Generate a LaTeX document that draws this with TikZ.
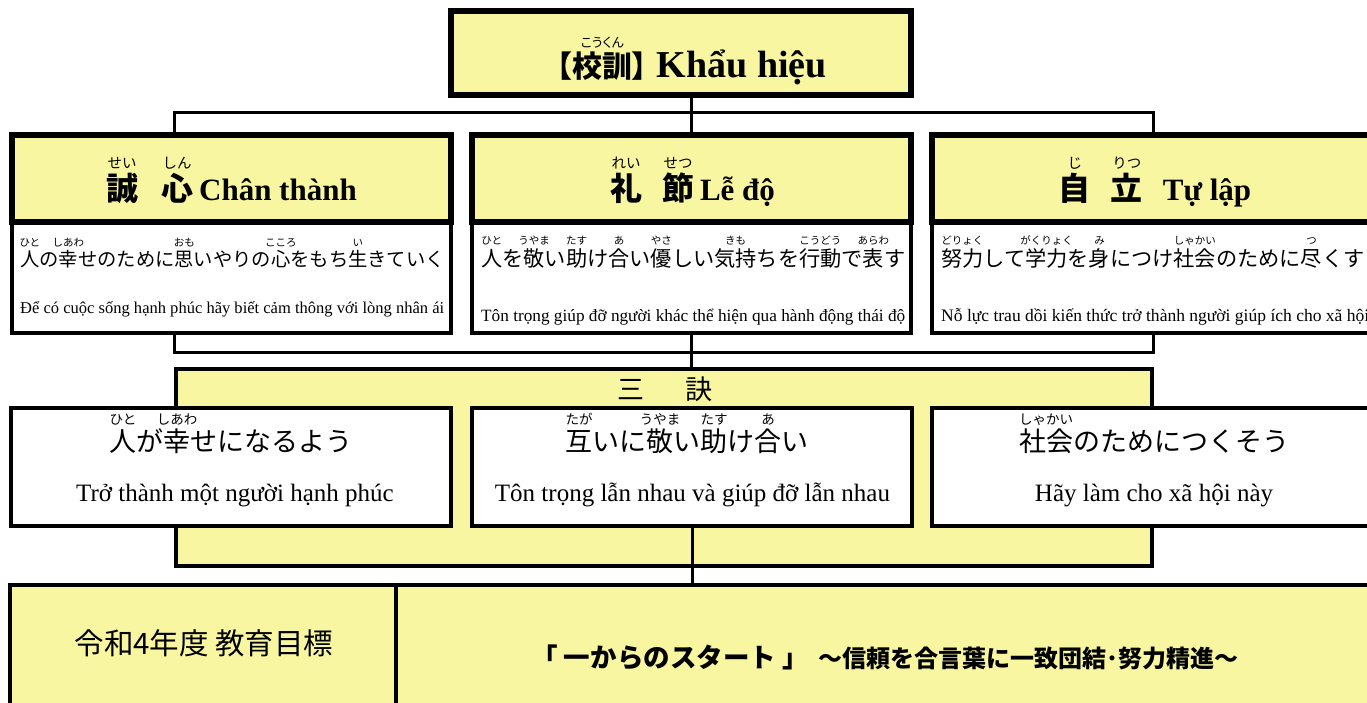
\documentclass[tikz,border=0pt]{standalone}
\usepackage{graphicx}
\usepackage{fontspec}
\setmainfont{Liberation Serif}
\newfontfamily\jp{Noto Sans CJK JP}
\newfontfamily\jpp[RawFeature=+palt]{Noto Sans CJK JP}
\definecolor{ylw}{RGB}{248,246,160}
\newcommand\fs[1]{\fontsize{#1}{#1}\selectfont}
\newcommand\Rb[3]{{\setbox0=\hbox{#1}\rlap{\makebox[\wd0]{\raisebox{1em}{\mdseries\fs{#3}#2}}}\box0}}
\begin{document}
\begin{tikzpicture}[x=1pt,y=-1pt,
  conn/.style={line width=3pt},
  topbox/.style={draw,line width=6pt,fill=ylw,inner sep=0pt},
  headbox/.style={draw,line width=5.5pt,fill=ylw,inner sep=0pt,minimum width=439pt,minimum height=87pt},
  descbox/.style={draw,line width=3.5pt,fill=white,inner sep=0pt,minimum width=439pt,minimum height=111pt},
  rowbox/.style={draw,line width=3.5pt,fill=white,inner sep=0pt,minimum width=440pt,minimum height=118pt},
  ybox/.style={draw,line width=3.5pt,fill=ylw,inner sep=0pt},
  txt/.style={inner sep=0pt,anchor=base},
  txtl/.style={inner sep=0pt,anchor=base west},
]
\useasboundingbox (0,0) rectangle (1367,702);
\clip (0,0) rectangle (1367,702);

% top box
\node[topbox,minimum width=460pt,minimum height=84pt] (top) at (681,53) {};
% description boxes (white) and heading boxes (yellow)
\node[descbox] (dA) at (231.5,277.5) {};
\node[descbox] (dB) at (691.5,277.5) {};
\node[descbox] (dC) at (1151.5,277.5) {};
\node[headbox] (hA) at (231.5,178.5) {};
\node[headbox] (hB) at (691.5,178.5) {};
\node[headbox] (hC) at (1151.5,178.5) {};

% sanketsu box
\node[ybox,minimum width=976pt,minimum height=197pt] (sk) at (664,467.5) {};
\node[rowbox] (rA) at (231,467) {};
\node[rowbox] (rB) at (692,467) {};
\node[rowbox] (rC) at (1152,467) {};

% bottom goal box
\node[ybox,minimum width=386pt,minimum height=145pt] (gL) at (203,657.5) {};
\node[ybox,minimum width=984pt,minimum height=145pt] (gR) at (888,657.5) {};

% connectors
\draw[conn] (hB.north |- top.south) -- (hB.north);
\draw[conn] (hA.north -| sk.west) -- ++(0,-20) -| (hC.north -| sk.east);
\draw[conn] (dA.south -| sk.west) -- ++(0,18) -| (dC.south -| sk.east);
\draw[conn] (dB.south) -- (dB.south |- sk.north);
\draw[conn] (rB.south) -- (rB.south |- gR.north);

% title
\node[txt] (title) at (692,77) {\jpp\bfseries\fs{30}【\Rb{校訓}{こうくん}{13}】{\rmfamily\bfseries\fs{38} Khẩu hiệu}};

% headings
\node[txt] (tA) at (231.5,200) {\jp\bfseries\fs{32}\Rb{誠}{せい}{14.5}\hspace{23pt}\Rb{心}{しん}{14.5}\hspace{6pt}{\rmfamily\fs{31}Chân thành}};
\node[txt] (tB) at (692.5,200) {\jp\bfseries\fs{32}\Rb{礼}{れい}{14.5}\hspace{20pt}\Rb{節}{せつ}{14.5}\hspace{6pt}{\rmfamily\fs{31}Lễ độ}};
\node[txt] (tC) at (1155,200) {\jp\bfseries\fs{32}\Rb{自}{じ}{14.5}\hspace{20pt}\Rb{立}{りつ}{14.5}\hspace{20pt}{\rmfamily\fs{31}Tự lập}};

% description lines
\node[txtl] (jA) at (20,266) {\jp\fs{19.3}\Rb{人}{ひと}{10.5}の\Rb{幸}{しあわ}{10.5}せのために\Rb{思}{おも}{10.5}いやりの\Rb{心}{こころ}{10.5}をもち\Rb{生}{い}{10.5}きていく};
\node[txtl] (jB) at (481,266) {\jp\fs{21.2}\Rb{人}{ひと}{10.5}を\Rb{敬}{うやま}{10.5}い\Rb{助}{たす}{10.5}け\Rb{合}{あ}{10.5}い\Rb{優}{やさ}{10.5}しい\Rb{気持}{きも}{10.5}ちを\Rb{行動}{こうどう}{10.5}で\Rb{表}{あらわ}{10.5}す};
\node[txtl] (jC) at (941,266) {\jp\fs{21.2}\Rb{努力}{どりょく}{10.5}して\Rb{学力}{がくりょく}{10.5}を\Rb{身}{み}{10.5}につけ\Rb{社会}{しゃかい}{10.5}のために\Rb{尽}{つ}{10.5}くす};

\node[txtl] (vA) at (20,313) {\resizebox{424pt}{!}{\fs{16}Để có cuộc sống hạnh phúc hãy biết cảm thông với lòng nhân ái}};
\node[txtl] (vB) at (481,321) {\resizebox{424pt}{!}{\fs{16}Tôn trọng giúp đỡ người khác thể hiện qua hành động thái độ}};
\node[txtl] (vC) at (941,321) {\resizebox{428pt}{!}{\fs{16}Nỗ lực trau dồi kiến thức trở thành người giúp ích cho xã hội}};

% sanketsu label
\node[txt] (skl) at (665,399) {\jp\fs{27}三\hspace{42pt}訣};

% row texts
\node[txt] (jr1) at (231,451) {\jp\fs{27}\Rb{人}{ひと}{13.5}が\Rb{幸}{しあわ}{13.5}せになるよう};
\node[txt] (jr2) at (687,451) {\jp\fs{27}\Rb{互}{たが}{13.5}いに\Rb{敬}{うやま}{13.5}い\Rb{助}{たす}{13.5}け\Rb{合}{あ}{13.5}い};
\node[txt] (jr3) at (1154,451) {\jp\fs{27}\Rb{社会}{しゃかい}{13.5}のためにつくそう};
\node[txt] (vr1) at (235,501) {\fs{25}Trở thành một người hạnh phúc};
\node[txt] (vr2) at (692.5,501) {\fs{25}Tôn trọng lẫn nhau và giúp đỡ lẫn nhau};
\node[txt] (vr3) at (1154,501) {\fs{25}Hãy làm cho xã hội này};

% goal texts
\node[txt] (g1) at (204,654) {\jp\fs{29.5}令和4年度 教育目標};
\node[txt] (g2) at (885,667) {\jp\bfseries\fs{26.5}「 一からのスタート 」\hspace{10pt}\fs{24}～信頼を合言葉に一致団結･努力精進～};
\end{tikzpicture}
\end{document}
